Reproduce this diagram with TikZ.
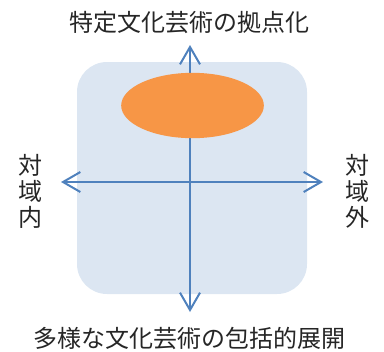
\documentclass[tikz,border=0pt]{standalone}
\usepackage{fontspec}
\setmainfont{Noto Sans CJK JP}
\usetikzlibrary{arrows.meta,shapes.geometric}
\definecolor{bgblue}{HTML}{DCE6F2}
\definecolor{orng}{HTML}{F79646}
\definecolor{axis}{HTML}{4F81BD}
\tikzset{
  panel/.style={fill=bgblue, draw=none, rounded corners=22.5pt},
  blob/.style={ellipse, fill=orng, draw=none},
  axisline/.style={draw=axis, line width=1.5pt, {Straight Barb[length=13pt,width=15pt,line width=1.5pt]}-{Straight Barb[length=13pt,width=15pt,line width=1.5pt]}},
  lbl/.style={font=\fontsize{18}{19}\selectfont, inner sep=0pt, text=black!85},
  vlbl/.style={lbl, align=center, font=\fontsize{18}{19.5}\selectfont}
}
\begin{document}
\begin{tikzpicture}[x=0.75pt,y=-0.75pt]
\useasboundingbox (0,0) rectangle (384,351);
\fill[panel] (77,62) rectangle (307,294);
\coordinate (top) at (190,45);
\coordinate (bot) at (190,312);
\coordinate (lft) at (61,182);
\coordinate (rgt) at (323,182);
\draw[axisline] (bot) -- (top);
\draw[axisline] (lft) -- (rgt);
\node[blob, minimum width=107pt, minimum height=49pt, inner sep=0pt] (e) at (192.5,105.5) {};
\node[lbl] (t) at (189,22) {特定文化芸術の拠点化};
\node[lbl] (b) at (189,338) {多様な文化芸術の包括的展開};
\node[vlbl] (l) at (30,191) {対\\域\\内};
\node[vlbl] (r) at (357,191) {対\\域\\外};
\end{tikzpicture}
\end{document}
